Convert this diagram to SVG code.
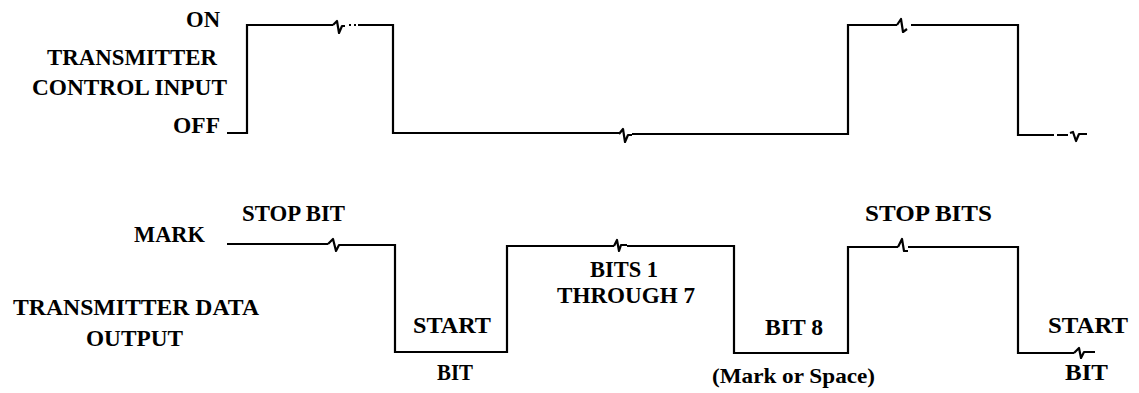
<svg xmlns="http://www.w3.org/2000/svg" width="1139" height="393" viewBox="0 0 1139 393">
<style>
  .w { fill: none; stroke: #000; stroke-width: 2.2; stroke-linejoin: miter; stroke-linecap: butt; }
  .brk { fill: none; stroke: #000; stroke-width: 2.2; stroke-linejoin: round; }
  text { font-family: "Liberation Serif", "Times New Roman", serif; font-weight: bold; font-size: 23px; fill: #000; }
  .sm { font-size: 21px; }
</style>
<rect width="1139" height="393" fill="#fff"/>

<g id="control-input-labels">
  <text x="186" y="27" textLength="34" lengthAdjust="spacingAndGlyphs">ON</text>
  <text x="47" y="65" textLength="170" lengthAdjust="spacingAndGlyphs">TRANSMITTER</text>
  <text x="32" y="95" textLength="195" lengthAdjust="spacingAndGlyphs">CONTROL INPUT</text>
  <text x="173" y="133" textLength="47" lengthAdjust="spacingAndGlyphs">OFF</text>
</g>

<g id="data-output-labels">
  <text x="242" y="221" textLength="103" lengthAdjust="spacingAndGlyphs">STOP BIT</text>
  <text x="134" y="242" textLength="71" lengthAdjust="spacingAndGlyphs">MARK</text>
  <text x="13" y="315" textLength="246" lengthAdjust="spacingAndGlyphs">TRANSMITTER DATA</text>
  <text x="86" y="346" textLength="97" lengthAdjust="spacingAndGlyphs">OUTPUT</text>
  <text x="413" y="333" textLength="78" lengthAdjust="spacingAndGlyphs">START</text>
  <text x="437" y="380" textLength="36" lengthAdjust="spacingAndGlyphs">BIT</text>
  <text x="590" y="277" textLength="68" lengthAdjust="spacingAndGlyphs">BITS 1</text>
  <text x="557" y="303" textLength="138" lengthAdjust="spacingAndGlyphs">THROUGH 7</text>
  <text x="765" y="335" textLength="58" lengthAdjust="spacingAndGlyphs">BIT 8</text>
  <text class="sm" x="712" y="383" textLength="163" lengthAdjust="spacingAndGlyphs">(Mark or Space)</text>
  <text x="865" y="221" textLength="127" lengthAdjust="spacingAndGlyphs">STOP BITS</text>
  <text x="1048" y="333" textLength="80" lengthAdjust="spacingAndGlyphs">START</text>
  <text x="1065" y="380" textLength="43" lengthAdjust="spacingAndGlyphs">BIT</text>
</g>

<g id="control-input-waveform">
  <path class="w" d="M227 133 H247 V25 H333"/>
  <path class="brk" d="M333 25 L337 21 L339 33 L342 26 H345"/>
  <path class="w" d="M349 25 H351 M354 25 H356"/>
  <path class="w" d="M358 25 H393 V133 H619"/>
  <path class="brk" d="M619 134 L623 129 L625 142 L628 135 H632"/>
  <path class="w" d="M632 134 H848 V25 H897"/>
  <path class="brk" d="M897 25 L901 19 L903 32 L907 29"/>
  <path class="w" d="M911 25 H1018 V135 H1054 M1057 135 H1068"/>
  <path class="brk" d="M1070 133 L1073 132 L1076 141 L1079 134 H1087"/>
</g>

<g id="data-output-waveform">
  <path class="w" d="M227 244 H328"/>
  <path class="brk" d="M328 244 L333 239 L336 251 L339 245 H343"/>
  <path class="w" d="M343 245 H395 V352 H507 V246 H614"/>
  <path class="brk" d="M614 246 L617 240 L619 251 L621 245 H627"/>
  <path class="w" d="M627 246 H734 V353 H848 V247 H898"/>
  <path class="brk" d="M898 247 L902 239 L904 251 H908"/>
  <path class="w" d="M908 247 H1018 V353 H1074"/>
  <path class="brk" d="M1074 353 L1079 348 L1081 358 L1084 352 H1095"/>
</g>
</svg>
